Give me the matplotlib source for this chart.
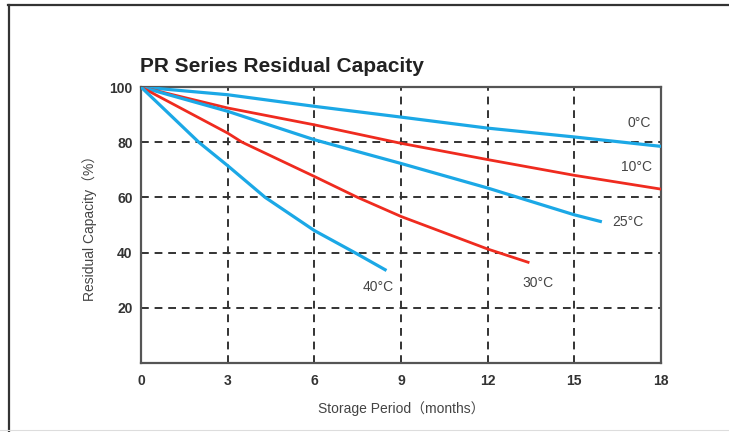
import matplotlib
matplotlib.use("Agg")
import matplotlib.pyplot as plt
from matplotlib.lines import Line2D

# storage period (months) vs residual capacity (%)
months_0c = [0, 3, 6, 9, 12, 15, 18]
cap_0c = [100, 97.2, 93.0, 89.1, 85.1, 81.9, 78.5]

months_10c = [0, 3, 6, 9, 12, 15, 18]
cap_10c = [100, 92.4, 86.3, 79.6, 73.7, 68.0, 63.0]

months_25c = [0, 3, 6, 9, 12, 15, 15.9]
cap_25c = [100, 91.2, 80.9, 72.3, 63.4, 53.7, 51.3]

months_30c = [0, 3, 3.5, 6, 7.5, 9, 12, 13.4]
cap_30c = [100, 83.3, 80, 67.6, 60, 53.1, 41.3, 36.5]

months_40c = [0, 2, 3, 4.3, 6, 7.4, 8.45]
cap_40c = [100, 80, 71.5, 60, 48.0, 40, 33.8]

labels = ["0°C", "10°C", "25°C", "30°C", "40°C"]
label_pos = [(17.25, 87), (17.15, 71), (16.85, 51.2), (13.75, 29), (8.2, 27.7)]

xticks = [0, 3, 6, 9, 12, 15, 18]
yticks = [20, 40, 60, 80, 100]

BLUE = "#1ba8e6"
RED = "#ef2b1f"
DARK = "#333333"

plt.rcParams['font.family'] = ['Liberation Sans', 'Noto Sans CJK SC', 'DejaVu Sans']

fig = plt.figure(figsize=(7.29, 4.32), dpi=100)
ax = fig.add_axes([0.1934, 0.1597, 0.7133, 0.6389])

for x in xticks[1:-1]:
    ax.axvline(x, color=DARK, lw=1.4, ls=(0, (4, 3)), zorder=1)
for y in yticks[:-1]:
    ax.axhline(y, color=DARK, lw=1.4, ls=(0, (4, 3)), zorder=1)

ax.plot(months_0c, cap_0c, color=BLUE, lw=2.3, zorder=3)
ax.plot(months_10c, cap_10c, color=RED, lw=2.0, zorder=3)
ax.plot(months_25c, cap_25c, color=BLUE, lw=2.3, zorder=3)
ax.plot(months_30c, cap_30c, color=RED, lw=2.0, zorder=3)
ax.plot(months_40c, cap_40c, color=BLUE, lw=2.3, zorder=3)

for text, (x, y) in zip(labels, label_pos):
    ax.text(x, y, text, ha="center", va="center", fontsize=10, color="#444444")

ax.set_xlim(0, 18)
ax.set_ylim(0, 100)
ax.set_xticks(xticks)
ax.set_yticks(yticks)
ax.tick_params(length=0, pad=6, labelsize=10, labelcolor=DARK)
ax.tick_params(axis="x", pad=8)
for lab in ax.get_xticklabels() + ax.get_yticklabels():
    lab.set_fontweight("bold")
for sp in ax.spines.values():
    sp.set_color("#555555")
    sp.set_linewidth(1.6)

ax.set_xlabel("Storage Period（months）", fontsize=10, color="#444444", labelpad=9)
ax.set_ylabel("Residual Capacity（%）", fontsize=10, color="#444444", labelpad=9)

fig.text(0.192, 0.847, "PR Series Residual Capacity", fontsize=15, fontweight="bold",
         color="#222222", ha="left", va="center")

# outer frame (top and left edges)
fig.add_artist(Line2D([0.011, 1.0], [0.9884, 0.9884], transform=fig.transFigure,
                      color="#333333", lw=1.6))
fig.add_artist(Line2D([0.0123, 0.0123], [0.0, 0.9884], transform=fig.transFigure,
                      color="#333333", lw=1.6))
fig.add_artist(Line2D([0.0, 1.0], [0.004, 0.004], transform=fig.transFigure,
                      color="#dddddd", lw=0.8))

fig.savefig("out.png", dpi=100)
